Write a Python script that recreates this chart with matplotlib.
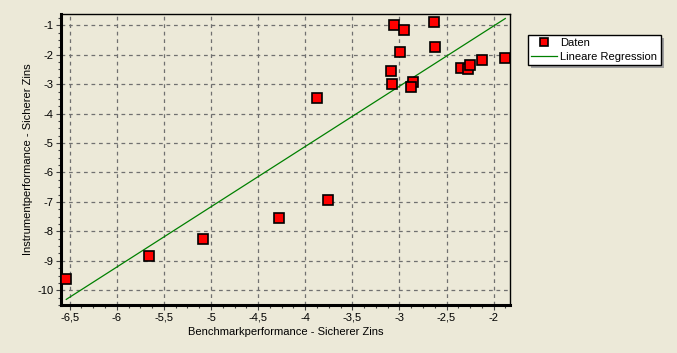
import matplotlib.pyplot as plt
from matplotlib.patches import Rectangle
from matplotlib.ticker import MultipleLocator, FuncFormatter

# values
bench = [-6.536, -5.655, -5.082, -4.281, -3.755, -3.872, -3.054, -2.948, -2.63, -2.99,
         -2.619, -3.086, -3.075, -2.852, -2.874, -2.343, -2.269, -2.247, -2.12, -1.876]
instr = [-9.61, -8.83, -8.25, -7.54, -6.93, -3.475, -1.0, -1.17, -0.9, -1.92,
         -1.75, -2.56, -3.0, -2.92, -3.10, -2.46, -2.48, -2.36, -2.19, -2.12]

# regression line as drawn (slope / intercept)
reg_slope = 2.047
reg_intercept = 3.07

bg = '#ECE9D8'
plt.rcParams['font.family'] = ['Liberation Sans', 'DejaVu Sans']
plt.rcParams['font.size'] = 8

fig = plt.figure(figsize=(6.77, 3.53), dpi=100, facecolor=bg)
ax = fig.add_axes([61/677, 1-305/353, (510-61)/677, (305-14)/353])
ax.set_facecolor(bg)

x_line = [min(bench), max(bench)]
y_line = [reg_slope*v + reg_intercept for v in x_line]

ax.plot(bench, instr, linestyle='none', marker='s', markersize=6.5,
        markerfacecolor='#FF0000', markeredgecolor='black', markeredgewidth=1.2,
        label='Daten', zorder=3)
ax.plot(x_line, y_line, color='#008000', linewidth=0.9, label='Lineare Regression', zorder=2)

ax.set_xlim(-6.592, -1.826)
ax.set_ylim(-10.5, -0.617)

ax.xaxis.set_major_locator(MultipleLocator(0.5))
ax.xaxis.set_minor_locator(MultipleLocator(0.125))
ax.yaxis.set_major_locator(MultipleLocator(1))
ax.yaxis.set_minor_locator(MultipleLocator(0.25))
fmt = FuncFormatter(lambda v, p: ('%g' % v).replace('.', ','))
ax.xaxis.set_major_formatter(fmt)
ax.yaxis.set_major_formatter(fmt)

ax.grid(True, which='major', color='#707070', linestyle=(0, (3, 3)), linewidth=0.9)
ax.set_axisbelow(True)

for side in ['left', 'bottom']:
    ax.spines[side].set_linewidth(2.2)
for side in ['top', 'right']:
    ax.spines[side].set_linewidth(1)

ax.tick_params(which='major', direction='out', length=3.5, width=0.8, color='#404040', pad=2)
ax.tick_params(which='minor', direction='out', length=2, width=0.8, color='#404040')

ax.set_xlabel('Benchmarkperformance - Sicherer Zins', labelpad=3)
ax.set_ylabel('Instrumentperformance - Sicherer Zins', labelpad=3)

leg = ax.legend(loc='upper left', bbox_to_anchor=(528/677, 1-35/353),
                bbox_transform=fig.transFigure, borderaxespad=0, fancybox=False,
                framealpha=1, edgecolor='black', handlelength=2.3, handletextpad=0.3,
                borderpad=0.3, labelspacing=0.3, markerscale=0.85)
leg.get_frame().set_linewidth(1)
leg.set_zorder(10)

# grey drop shadow behind the legend box, 3 px right and down
fig.canvas.draw()
bb = leg.get_frame().get_window_extent()
x0, y0 = fig.transFigure.inverted().transform((bb.x0 + 3, bb.y0 - 3))
w, h = bb.width / fig.bbox.width, bb.height / fig.bbox.height
shadow = Rectangle((x0, y0), w, h, transform=fig.transFigure,
                   facecolor='#A0A0A0', edgecolor='none', zorder=9, clip_on=False)
ax.add_artist(shadow)

plt.savefig('out.png', dpi=100, facecolor=bg)
